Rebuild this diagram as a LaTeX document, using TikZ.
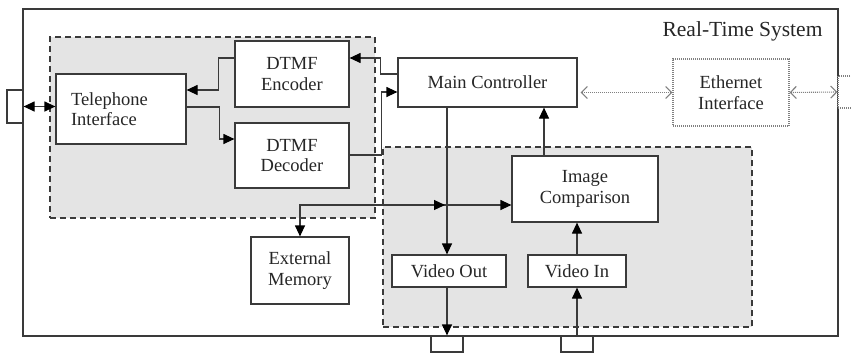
\documentclass[tikz,border=0pt]{standalone}
\usepackage{fontspec}
\setmainfont{Liberation Serif}
\usetikzlibrary{arrows.meta}
\definecolor{lc}{HTML}{3A3A3A}
\definecolor{grpfill}{HTML}{E4E4E4}
\begin{document}
\begin{tikzpicture}[x=1pt,y=-1pt,
  every node/.style={font=\fontsize{18.5}{20.5}\selectfont, text=black!85},
  box/.style={draw=lc, line width=1.2pt, fill=white, inner sep=0pt, align=center},
  dotbox/.style={draw=gray, line width=1.1pt, dash pattern=on 1pt off 1pt, fill=white, inner sep=0pt, align=center},
  grp/.style={draw=lc, line width=1.2pt, dash pattern=on 6pt off 4pt, fill=grpfill, inner sep=0pt},
  tip/.tip={Triangle[length=11pt,width=10pt,fill=black,color=black]},
  arr/.style={draw=lc, line width=1.2pt, -tip},
  darr/.style={draw=lc, line width=1.2pt, tip-tip},
  dotarr/.style={draw=gray, line width=1.1pt, dash pattern=on 1pt off 1pt, {Straight Barb[length=6pt,width=12pt]}-{Straight Barb[length=6pt,width=12pt]}}
]
\useasboundingbox (0,0) rectangle (851,354);
\clip (0,0) rectangle (851,354);
\fill[white] (0,0) rectangle (851,354);

% outer system box and ports
\node[box, fill=none, minimum width=815, minimum height=327] (rts) at (430.5,172.5) {};
\node[anchor=base east, font=\fontsize{21.5}{24}\selectfont] (title) at (826,36) {Real-Time System};
\node[box, minimum width=16, minimum height=33] (lport) at (15,106.5) {};
\node[box, minimum width=32, minimum height=16] (bp1) at (447,344) {};
\node[box, minimum width=32, minimum height=16] (bp2) at (577,344) {};
\node[dotbox, minimum width=32, minimum height=32] (xport) at (854,92) {};

% groups
\node[grp, minimum width=325, minimum height=181] (g1) at (212.5,127.5) {};
\node[grp, minimum width=369, minimum height=180] (g2) at (567.5,237) {};

% blocks
\node[box, minimum width=130, minimum height=70, text width=100pt, align=left] (tel) at (121,109) {Telephone\\Interface};
\node[box, minimum width=114, minimum height=66] (enc) at (292,74) {DTMF\\Encoder};
\node[box, minimum width=114, minimum height=65] (dec) at (292,155.5) {DTMF\\Decoder};
\node[box, minimum width=179, minimum height=49] (mc) at (487.5,82.5) {Main Controller};
\node[dotbox, minimum width=116, minimum height=67] (eth) at (731,92.5) {Ethernet\\Interface};
\node[box, minimum width=146, minimum height=66] (img) at (585,189) {Image\\Comparison};
\node[box, minimum width=98, minimum height=67] (ext) at (300,270.5) {External\\Memory};
\node[box, minimum width=114, minimum height=32] (vout) at (449,271) {Video Out};
\node[box, minimum width=98, minimum height=32] (vin) at (577,271) {Video In};

% connectors
\draw[darr] (lport.east) -- (lport.east -| tel.west);
\draw[arr] ([yshift=16pt]enc.west) -- ++(-16,0) |- ([yshift=19pt]tel.east);
\draw[arr] ([yshift=2pt]tel.east) -- ++(33,0) |- ([yshift=16.5pt]dec.west);
\draw[arr] ([yshift=8.5pt]mc.west) -- ++(-17,0) |- ([yshift=16pt]enc.east);
\draw[arr] ([yshift=0.5pt]dec.east) -- ++(32,0) |- ([yshift=-9.5pt]mc.west);
\draw[dotarr, shorten <=3pt] ([yshift=-10pt]mc.east) -- (eth.west);
\draw[dotarr] (eth.east) -- (xport.west);
\draw[arr] (mc.south -| bp1) -- (vout.north -| bp1);
\draw[arr] (bp1.north |- vout.south) -- (bp1.north);
\draw[arr] (bp2.north) -- (vin.south);
\draw[arr] (vin.north) -- (vin.north |- img.south);
\draw[arr] ([xshift=-41pt]img.north) -- ([xshift=-41pt]img.north |- mc.south);
\coordinate (busR) at ([yshift=-16pt]img.west);
\draw[darr] (ext.north) |- (busR);
\draw[arr] (ext.north |- busR) -- ([xshift=-2pt]busR -| bp1);
\end{tikzpicture}
\end{document}
